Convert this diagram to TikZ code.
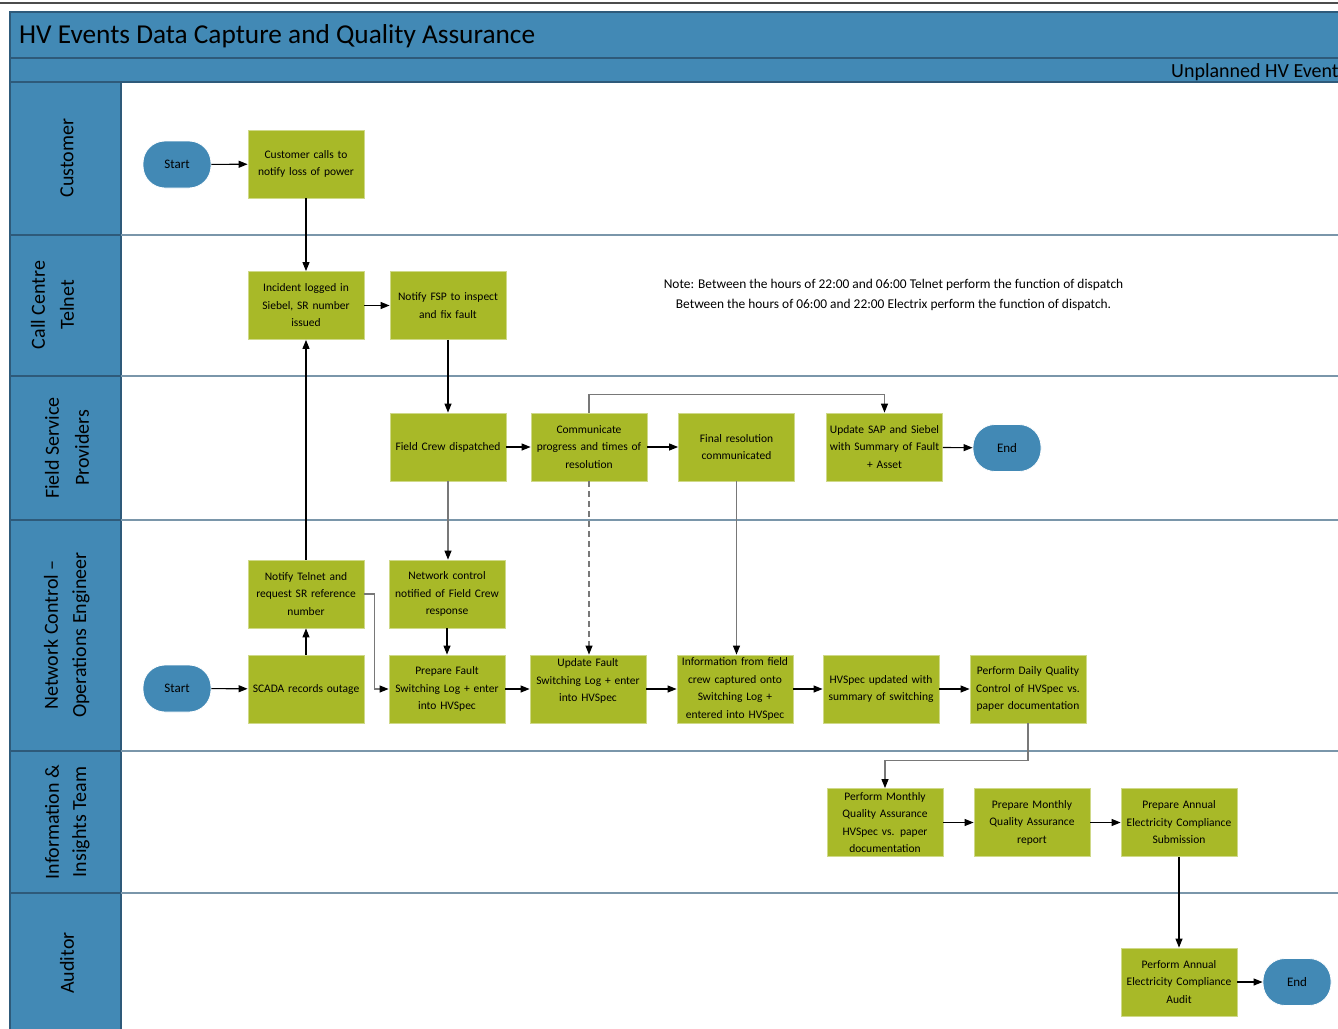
\documentclass[tikz,border=0pt]{standalone}
\usepackage{fontspec}
\setmainfont{Carlito}
\usetikzlibrary{arrows.meta}
\definecolor{hvblue}{RGB}{66,137,181}
\definecolor{hvgreen}{RGB}{168,185,40}
\definecolor{hvdark}{RGB}{46,90,122}
\definecolor{laneline}{RGB}{122,150,170}
\definecolor{conngray}{RGB}{120,120,120}
\begin{document}
\begin{tikzpicture}[x=1pt,y=-1pt,
  proc/.style={rectangle, fill=hvgreen, draw=hvgreen!55!white, line width=0.8pt,
    minimum width=116pt, minimum height=68pt, text width=112pt, align=center,
    inner sep=1pt, font=\fontsize{11.5}{17.5}\selectfont},
  term/.style={rectangle, rounded corners=22pt, fill=hvblue, draw=white, line width=0.8pt,
    minimum width=68pt, minimum height=47pt, font=\fontsize{13}{16}\selectfont},
  lanelbl/.style={rotate=90, font=\fontsize{20}{29}\selectfont, inner sep=0pt},
  conn/.style={draw=black, line width=1.1pt, -{Triangle[length=9pt,width=7pt,color=black]}},
  gconn/.style={conn, draw=conngray},
  lanesep/.style={draw=laneline, line width=1.4pt}]
\useasboundingbox (0,0) rectangle (1338,1028);
\begin{scope}
\clip (0,0) rectangle (1338,1028);
% top rule
\draw[draw=black!70, line width=1.5pt] (0,3) -- (1338,3);
% title bars
\filldraw[fill=hvblue, draw=hvdark, line width=1.2pt] (10,12) rectangle (1350,58);
\filldraw[fill=hvblue, draw=hvdark, line width=1.2pt] (10,58) rectangle (1350,82);
\node[anchor=base west, font=\fontsize{27.3}{32}\selectfont, inner sep=0pt] (title) at (19,43.5) {HV Events Data Capture and Quality Assurance};
\node[anchor=base west, font=\fontsize{20}{24}\selectfont, inner sep=0pt] (sub) at (1171,77) {Unplanned HV Events};
% header column
\filldraw[fill=hvblue, draw=hvdark, line width=1.2pt] (10,82) rectangle (121,1040);
\foreach \yy in {235,376,520,751,893} {
  \draw[draw=hvdark, line width=1.2pt] (10,\yy) -- (121,\yy);
  \draw[lanesep] (121,\yy) -- (1338,\yy);
}
\end{scope}
% lane labels
\node[lanelbl] (l1) at (67,158) {Customer};
\node[lanelbl] (l2a) at (38,305) {Call Centre};
\node[lanelbl] (l2b) at (67,305) {Telnet};
\node[lanelbl] (l3a) at (52,448) {Field Service};
\node[lanelbl] (l3b) at (82,448) {Providers};
\node[lanelbl] (l4a) at (51,635) {Network Control –};
\node[lanelbl] (l4b) at (81,635) {Operations Engineer};
\node[lanelbl] (l5a) at (52,822) {Information \&};
\node[lanelbl] (l5b) at (81,822) {Insights Team};
\node[lanelbl] (l6) at (67,963) {Auditor};
% note
\node[align=center, font=\fontsize{13.4}{20}\selectfont] (note) at (893.5,295) {Note: Between the hours of 22:00 and 06:00 Telnet perform the function of dispatch\\Between the hours of 06:00 and 22:00 Electrix perform the function of dispatch.};
% terminals
\node[term] (s1) at (177,164.5) {Start};
\node[term] (s2) at (177,688.5) {Start};
\node[term] (fe) at (1007,448) {End};
\node[term] (ae) at (1297,982) {End};
% process boxes
\node[proc] (c1) at (306,164) {Customer calls to\\notify loss of power};
\node[proc] (t1) at (306,305.5) {Incident logged in\\Siebel, SR number\\issued};
\node[proc] (t2) at (448,305.5) {Notify FSP to inspect\\and fix fault};
\node[proc] (f1) at (448,447) {Field Crew dispatched};
\node[proc] (f2) at (589,447) {Communicate\\progress and times of\\resolution};
\node[proc] (f3) at (736.5,447) {Final resolution\\communicated};
\node[proc] (f4) at (884.5,447) {Update SAP and Siebel\\with Summary of Fault\\+ Asset};
\node[proc] (nt) at (306,594) {Notify Telnet and\\request SR reference\\number};
\node[proc] (n1) at (447,594) {Network control\\notified of Field Crew\\response};
\node[proc] (n2) at (306,689) {SCADA records outage};
\node[proc] (n3) at (447,689) {Prepare Fault\\Switching Log + enter\\into HVSpec};
\node[proc] (n4) at (588,689) {Update Fault\\Switching Log + enter\\into HVSpec\\\mbox{}};
\node[proc] (n5) at (735,689) {Information from field\\crew captured onto\\Switching Log +\\entered into HVSpec};
\node[proc] (n6) at (881,689) {HVSpec updated with\\summary of switching};
\node[proc] (n7) at (1028,689) {Perform Daily Quality\\Control of HVSpec vs.\\paper documentation};
\node[proc] (i1) at (885,822.5) {Perform Monthly\\Quality Assurance\\HVSpec vs. paper\\documentation};
\node[proc] (i2) at (1032,822.5) {Prepare Monthly\\Quality Assurance\\report};
\node[proc] (i3) at (1179,822.5) {Prepare Annual\\Electricity Compliance\\Submission};
\node[proc] (a1) at (1179,982) {Perform Annual\\Electricity Compliance\\Audit};
% connectors
\draw[conn] (s1) -- (c1);
\draw[conn] (c1.south) -- (t1.north);
\draw[conn] (t1) -- (t2);
\draw[conn] (t2.south) -- (f1.north);
\draw[conn] (f1) -- (f2);
\draw[conn] (f2) -- (f3);
\draw[gconn] (f2.north) -- ++(0,-18) -| (f4.north);
\draw[conn] (f4) -- (fe);
\draw[gconn] (f1.south) -- (f1.south |- n1.north);
\draw[gconn, dash pattern=on 6pt off 4pt] (f2.south) -- (f2.south |- n4.north);
\draw[gconn] (f3.south) -- (f3.south |- n5.north);
\draw[conn] (n1) -- (n3);
\draw[conn] (s2) -- (n2);
\draw[conn] (n2) -- (nt);
\draw[conn] (nt) -- (t1);
\draw[gconn] (nt.east) -- ++(10,0) |- (n3.west);
\draw[conn] (n3) -- (n4);
\draw[conn] (n4) -- (n5);
\draw[conn] (n5) -- (n6);
\draw[conn] (n6) -- (n7);
\draw[gconn] (n7.south) -- ++(0,37) -| (i1.north);
\draw[conn] (i1) -- (i2);
\draw[conn] (i2) -- (i3);
\draw[conn] (i3.south) -- (a1.north);
\draw[conn] (a1) -- (ae);
\end{tikzpicture}
\end{document}
